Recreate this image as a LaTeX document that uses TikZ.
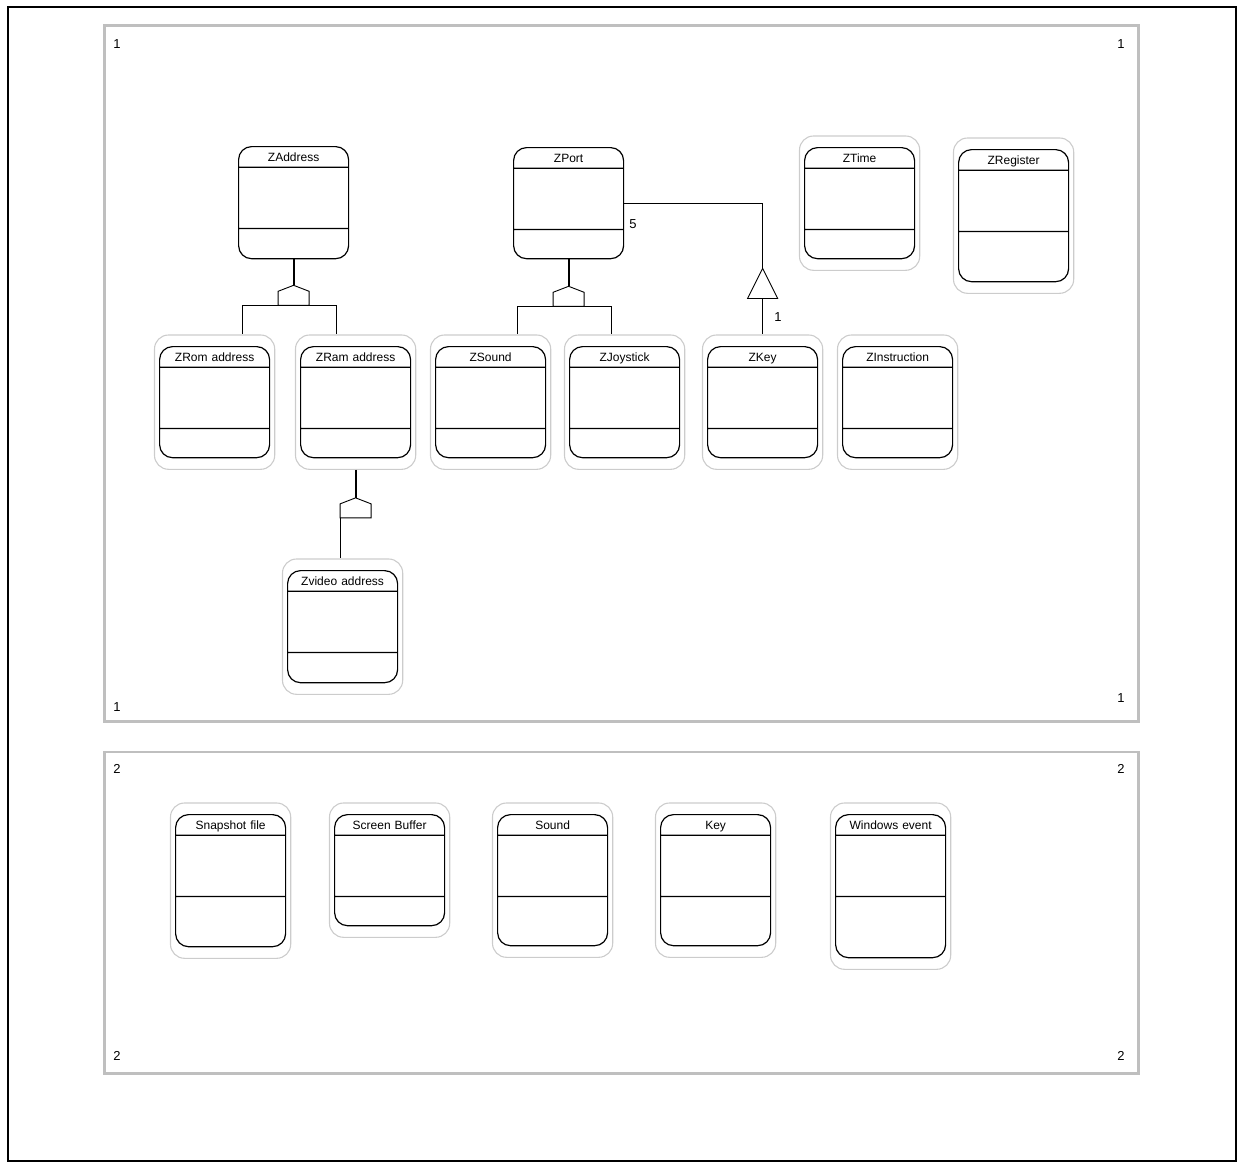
\documentclass[tikz,border=0pt]{standalone}
\usepackage{fontspec}
\setmainfont{Liberation Sans}
\usetikzlibrary{shapes.multipart, fit, calc}

% class box: title, attribute and operation compartments
\newcommand{\zparts}[2]{\rule[-5pt]{0pt}{19.5pt}#1\nodepart{two}\rule{0pt}{60pt}\nodepart{three}\rule{0pt}{#2}}

\begin{document}
\begin{tikzpicture}[
    x=1pt, y=-1pt,
    font=\fontsize{12}{13}\selectfont,
    zclass/.style={rectangle split, rectangle split parts=3, draw=black, line width=1.2pt, rounded corners=13pt, text width=110pt, inner xsep=0pt, inner ysep=0pt, align=center, anchor=north west},
    shell/.style={draw=gray!40, line width=1.1pt, rounded corners=14pt, inner xsep=4.5pt, inner ysep=11pt},
    panel/.style={draw=gray!50, line width=2.6pt, anchor=north west, inner sep=0pt},
    pagenum/.style={inner sep=0pt, font=\fontsize{13}{14}\selectfont},
    stem/.style={line width=1.8pt},
    rail/.style={line width=0.9pt}
]
    \useasboundingbox (0,0) rectangle (1239,1162);

    % Page frame and the two panels
    \node[draw, line width=2.2pt, anchor=north west, inner sep=0pt, minimum width=1228pt, minimum height=1154.5pt] (page) at (7,5.5) {};
    \node[panel, minimum width=1034pt, minimum height=696pt] (panel1) at (103,24) {};
    \node[panel, minimum width=1034pt, minimum height=321.5pt] (panel2) at (103,750.5) {};

    \node[pagenum] (p1a) at (117,44) {1};
    \node[pagenum] (p1b) at (1121,44) {1};
    \node[pagenum] (p1c) at (117,707) {1};
    \node[pagenum] (p1d) at (1121,698) {1};
    \node[pagenum] (p2a) at (117,769) {2};
    \node[pagenum] (p2b) at (1121,769) {2};
    \node[pagenum] (p2c) at (117,1056) {2};
    \node[pagenum] (p2d) at (1121,1056) {2};

    % Panel 1: model classes
    \node[zclass] (zaddress) at (238,146) {\zparts{ZAddress}{29pt}};
    \node[zclass] (zport) at (513,147) {\zparts{ZPort}{28pt}};
    \node[zclass] (ztime) at (804,147) {\zparts{ZTime}{28pt}};
    \node[zclass] (zregister) at (958,149) {\zparts{ZRegister}{49pt}};
    \node[zclass] (zrom) at (159,346) {\zparts{ZRom address}{28pt}};
    \node[zclass] (zram) at (300,346) {\zparts{ZRam address}{28pt}};
    \node[zclass] (zsound) at (435,346) {\zparts{ZSound}{28pt}};
    \node[zclass] (zjoystick) at (569,346) {\zparts{ZJoystick}{28pt}};
    \node[zclass] (zkey) at (707,346) {\zparts{ZKey}{28pt}};
    \node[zclass] (zinstruction) at (842,346) {\zparts{ZInstruction}{28pt}};
    \node[zclass] (zvideo) at (287,570) {\zparts{Zvideo address}{29pt}};

    % Panel 2: interface classes
    \node[zclass] (snapshot) at (175,814) {\zparts{Snapshot file}{49pt}};
    \node[zclass] (screenbuf) at (334,814) {\zparts{Screen Buffer}{28pt}};
    \node[zclass] (sound) at (497,814) {\zparts{Sound}{48pt}};
    \node[zclass] (key) at (660,814) {\zparts{Key}{48pt}};
    \node[zclass] (winevent) at (835,814) {\zparts{Windows event}{60pt}};

    % Grey outlines round the classes
    \node[shell, fit=(ztime)] (ztime-s) {};
    \node[shell, fit=(zregister)] (zregister-s) {};
    \node[shell, fit=(zrom)] (zrom-s) {};
    \node[shell, fit=(zram)] (zram-s) {};
    \node[shell, fit=(zsound)] (zsound-s) {};
    \node[shell, fit=(zjoystick)] (zjoystick-s) {};
    \node[shell, fit=(zkey)] (zkey-s) {};
    \node[shell, fit=(zinstruction)] (zinstruction-s) {};
    \node[shell, fit=(zvideo)] (zvideo-s) {};
    \node[shell, fit=(snapshot)] (snapshot-s) {};
    \node[shell, fit=(screenbuf)] (screenbuf-s) {};
    \node[shell, fit=(sound)] (sound-s) {};
    \node[shell, fit=(key)] (key-s) {};
    \node[shell, fit=(winevent)] (winevent-s) {};

    % ZAddress -> ZRom address, ZRam address
    \coordinate (gen1) at ($(zaddress.south)+(0,26)$);
    \draw[stem] (zaddress.south) -- (gen1);
    \draw[rail] (gen1) -- ++(15.5,6) -- ++(0,14) -- ++(-31,0) -- ++(0,-14) -- cycle;
    \draw[rail] ($(gen1)+(-51,20)$) coordinate (r1a) -- ($(gen1)+(43,20)$) coordinate (r1b);
    \draw[rail] (r1a) -- (r1a |- zrom-s.north);
    \draw[rail] (r1b) -- (r1b |- zram-s.north);

    % ZPort -> ZSound, ZJoystick
    \coordinate (gen2) at ($(zport.south)+(0,27)$);
    \draw[stem] (zport.south) -- (gen2);
    \draw[rail] (gen2) -- ++(15.5,6) -- ++(0,14) -- ++(-31,0) -- ++(0,-14) -- cycle;
    \draw[rail] ($(gen2)+(-51,20)$) coordinate (r2a) -- ($(gen2)+(43,20)$) coordinate (r2b);
    \draw[rail] (r2a) -- (r2a |- zsound-s.north);
    \draw[rail] (r2b) -- (r2b |- zjoystick-s.north);

    % ZRam address -> Zvideo address
    \coordinate (gen3) at ($(zram-s.south)+(0,28)$);
    \draw[stem] (zram-s.south) -- (gen3);
    \draw[rail] (gen3) -- ++(15.5,6) -- ++(0,14) -- ++(-31,0) -- ++(0,-14) -- cycle;
    \draw[rail] ($(gen3)+(-15.5,20)$) coordinate (r3a) -- (r3a |- zvideo-s.north);

    % ZPort -- ZKey
    \coordinate (gen4) at ($(zkey-s.north)+(0,-66)$);
    \draw[rail] (zport.east) -| (gen4);
    \draw[line width=1.5pt] ($(gen4)+(0,-35)$) -- (gen4);
    \draw[rail] (gen4) -- ++(15,30) -- ++(-30,0) -- cycle;
    \draw[rail] ($(gen4)+(0,30)$) -- (zkey-s.north);
    \node[pagenum] (mult5) at (633,224) {5};
    \node[pagenum] (mult1) at (778,317) {1};

\end{tikzpicture}
\end{document}
